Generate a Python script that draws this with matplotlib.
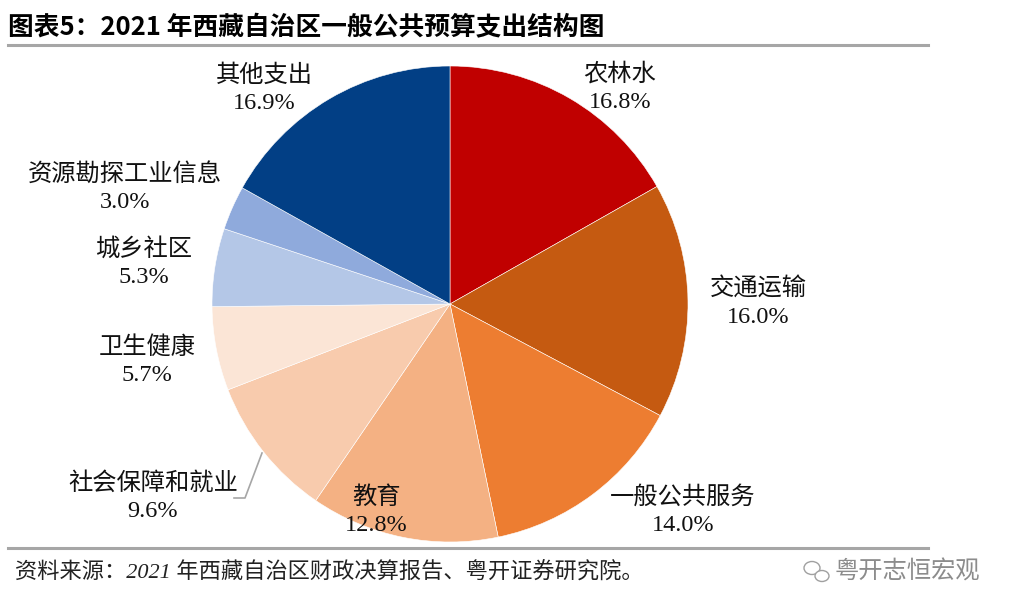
import matplotlib.pyplot as plt
from matplotlib.patches import Ellipse

plt.rcParams['font.family'] = ['Liberation Serif', 'Noto Sans CJK SC', 'DejaVu Sans']

# ---- data ----
categories = ['农林水', '交通运输', '一般公共服务', '教育', '社会保障和就业',
              '卫生健康', '城乡社区', '资源勘探工业信息', '其他支出']
shares = [16.8, 16.0, 14.0, 12.8, 9.6, 5.7, 5.3, 3.0, 16.9]
colors = ['#C00000', '#C55A11', '#ED7D31', '#F4B183', '#F8CBAD',
          '#FBE5D6', '#B4C7E7', '#8FAADC', '#023F85']

# label centres in pixels (x, y from top) -- placement only
label_px = [(620, 88), (758, 303), (683, 511), (376, 511), (153, 497),
            (147, 361), (144, 263), (125, 188), (264, 89)]

W, H = 1012, 613
cx, cy, R = 450, 304, 238


def to_data(x, y):
    return (x - cx) / R, (cy - y) / R


fig = plt.figure(figsize=(W / 100, H / 100), dpi=100)
ax = fig.add_axes([0, 0, 1, 1])
ax.pie(shares, colors=colors, startangle=90, counterclock=False,
       radius=1, wedgeprops=dict(edgecolor='white', linewidth=0.4))
ax.set_xlim(-cx / R, (W - cx) / R)
ax.set_ylim(-(H - cy) / R, cy / R)
ax.set_aspect('equal')
ax.axis('off')

for name, val, (lx, ly) in zip(categories, shares, label_px):
    x, y = to_data(lx, ly)
    ax.text(x, y, f'{name}\n{val:.1f}%', ha='center', va='center',
            fontsize=17.5, linespacing=1.42, color='#111111')

# leader line for 社会保障和就业
pts = [to_data(p, q) for p, q in [(234, 498), (245, 498), (262, 453)]]
ax.plot([p[0] for p in pts], [p[1] for p in pts], color='#A6A6A6', lw=1.2)

# ---- title, rules, source ----
fig.text(8 / W, 1 - 28 / H, '图表5：2021 年西藏自治区一般公共预算支出结构图',
         fontsize=18.5, fontweight='bold', va='center', ha='left',
         family=['Noto Sans CJK SC'])
fig.add_artist(plt.Line2D([8 / W, 928 / W], [1 - 45 / H, 1 - 45 / H],
                          color='#A6A6A6', lw=2.2))
fig.add_artist(plt.Line2D([8 / W, 928 / W], [1 - 548 / H, 1 - 548 / H],
                          color='#A6A6A6', lw=2.2))
fig.text(15 / W, 1 - 573 / H, '资料来源：2021 年西藏自治区财政决算报告、粤开证券研究院。',
         fontsize=16, style='italic', va='center', ha='left', color='#222222')

# watermark
fig.text(835 / W, 1 - 572 / H, '粤开志恒宏观', fontsize=17.5, va='center',
         ha='left', color='#8C8C8C', family=['Noto Sans CJK SC'])
ax.add_patch(Ellipse(to_data(812, 568), 16 / R, 13 / R, fill=False,
                     ec='#A0A0A0', lw=1))
ax.add_patch(Ellipse(to_data(822, 576), 14 / R, 11 / R, fc='white',
                     ec='#A0A0A0', lw=1))

fig.savefig('out.png', dpi=100)
